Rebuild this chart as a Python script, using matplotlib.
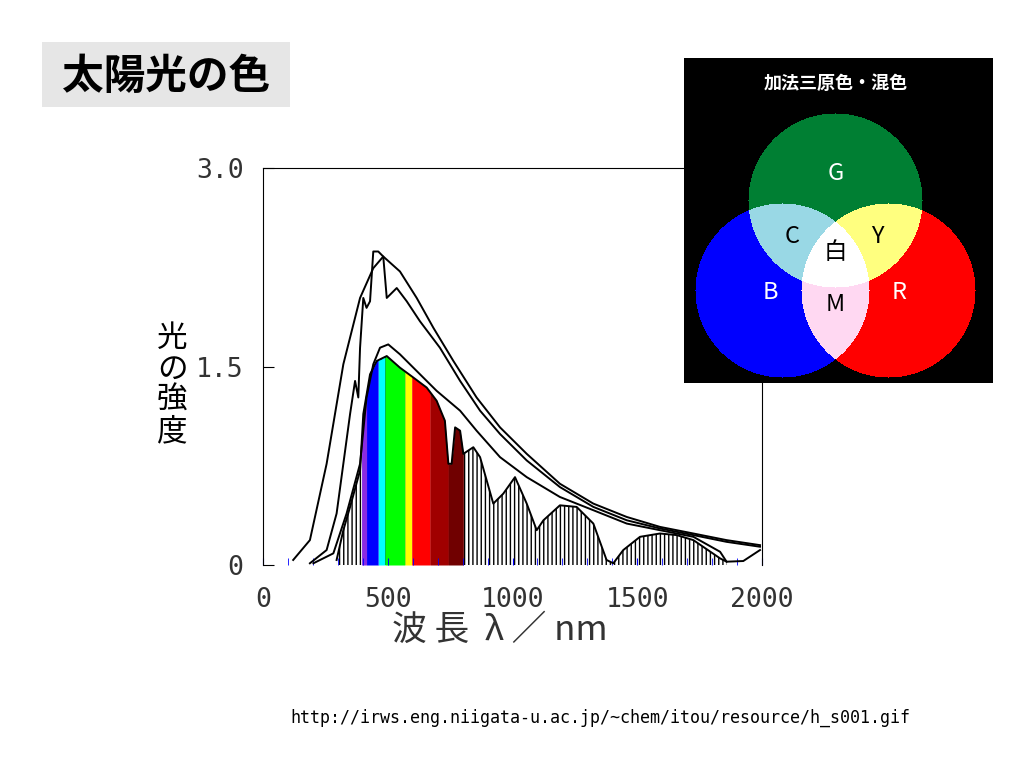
import numpy as np
import matplotlib
matplotlib.use("Agg")
import matplotlib.pyplot as plt

plt.rcParams['font.family'] = ['Noto Sans CJK JP', 'DejaVu Sans']

# extraterrestrial-like envelope (smooth)
wl_a = [121,188,255,322,389,442,482,549,616,683,763,856,950,1057,1190,1324,1458,1591,1725,1858,1992]
va_a = [0.038,0.188,0.765,1.517,2.018,2.243,2.331,2.218,2.018,1.792,1.542,1.266,1.040,0.840,0.614,0.464,0.363,0.288,0.238,0.188,0.150]
# jagged curve
wl_b = [188,255,295,322,349,369,382,389,402,415,429,442,462,482,496,536,576,629,709,790,870,950,1057,1190,1324,1458,1591,1725,1858,1992]
va_b = [0.013,0.113,0.389,0.765,1.141,1.391,1.266,1.642,2.018,1.943,1.993,2.369,2.369,2.331,2.018,2.093,1.993,1.842,1.642,1.391,1.166,0.990,0.790,0.589,0.439,0.338,0.276,0.226,0.175,0.138]
# sea-level envelope (smooth)
wl_c = [202,282,335,389,415,442,469,502,549,616,696,790,856,950,1057,1190,1324,1458,1591,1725,1832,1858,1925,1992]
va_c = [0.013,0.088,0.389,0.765,1.266,1.517,1.642,1.667,1.592,1.466,1.316,1.166,1.015,0.815,0.664,0.514,0.414,0.313,0.263,0.213,0.100,0.025,0.030,0.113]
# sea-level spectrum with absorption bands
wl_d = [295,322,349,389,402,429,456,496,549,603,656,696,729,743,756,770,790,803,843,870,923,963,1010,1057,1097,1124,1190,1257,1324,1377,1404,1444,1511,1591,1658,1725,1832,1858]
va_d = [0.038,0.263,0.439,0.714,1.141,1.441,1.542,1.579,1.491,1.416,1.341,1.241,1.090,0.765,0.765,1.040,1.015,0.840,0.890,0.815,0.464,0.539,0.664,0.464,0.263,0.338,0.451,0.439,0.313,0.038,0.013,0.113,0.213,0.238,0.226,0.188,0.050,0.025]

bands = [(395, 415, '#8a2be2'), (415, 462, '#0000ff'), (462, 489, '#00ffff'), (489, 569, '#00ff00'),
         (569, 596, '#ffff00'), (596, 670, '#ff0000'), (670, 743, '#a00000'), (743, 803, '#700000')]

fig = plt.figure(figsize=(10.24, 7.68), dpi=100)
ax = fig.add_axes([263/1024, 1-565/768, 499/1024, 397/768])
ax.set_xlim(0, 2000)
ax.set_ylim(0, 3.0)

ax.fill_between(wl_d, va_d, 0, facecolor='white', edgecolor='black', hatch='||||', lw=0)
xs = np.array(wl_d, float); ys = np.array(va_d, float)
for lo, hi, col in bands:
    xx = np.linspace(lo, hi, 30)
    ax.fill_between(xx, np.interp(xx, xs, ys), 0, color=col, lw=0)
for w, v in [(wl_a, va_a), (wl_b, va_b), (wl_c, va_c), (wl_d, va_d)]:
    ax.plot(w, v, color='black', lw=1.4)

ax.spines['bottom'].set_visible(False)
ax.set_yticks([0, 1.5, 3.0])
ax.set_yticklabels(['0', '1.5', '3.0'], family='DejaVu Sans Mono', fontsize=19, color='#333')
ax.set_xticks(range(0, 2001, 100), minor=True)
ax.set_xticks([0, 500, 1000, 1500, 2000])
ax.set_xticklabels(['0', '500', '1000', '1500', '2000'], family='DejaVu Sans Mono', fontsize=19, color='#333')
ax.tick_params(axis='x', which='both', color='blue', length=5, direction='in', pad=16)
ax.tick_params(axis='y', length=8, direction='in', pad=14)

fig.text(500/1024, 1-630/768, '波 長  λ ／ nm', fontsize=25, ha='center', va='center', color='#333')
fig.text(172/1024, 1-385/768, '光\nの\n強\n度', fontsize=22, ha='center', va='center', linespacing=1.0)

fig.patches.append(plt.Rectangle((42/1024, 1-107/768), 248/1024, 65/768, transform=fig.transFigure,
                                 facecolor='#e6e6e6', edgecolor='none'))
fig.text(166/1024, 1-77/768, '太陽光の色', fontsize=30, fontweight='bold', ha='center', va='center', color='black')

fig.text(600/1024, 1-718/768, 'http://irws.eng.niigata-u.ac.jp/~chem/itou/resource/h_s001.gif',
         family='DejaVu Sans Mono', fontsize=12, ha='center', va='center')

# additive colour inset
ins = fig.add_axes([684/1024, 1-383/768, 309/1024, 325/768])
W, H = 309, 325
yy, xx = np.mgrid[0:H, 0:W]
def disk(cx, cy, r):
    return (xx - cx) ** 2 + (yy - cy) ** 2 <= r ** 2
g = disk(151, 142, 87); b = disk(98, 232, 87); r = disk(204, 232, 87)
img = np.zeros((H, W, 3))
img[g] = [0, 0.50, 0.20]
img[b] = [0, 0, 1]
img[r] = [1, 0, 0]
img[g & b] = [0.6, 0.85, 0.9]
img[g & r] = [1, 1, 0.5]
img[b & r] = [1, 0.85, 0.95]
img[g & b & r] = [1, 1, 1]
ins.imshow(img, aspect='auto', interpolation='bilinear')
ins.set_axis_off()
ins.text(151, 25, '加法三原色・混色', color='white', fontsize=13, fontweight='bold', ha='center', va='center')
for t, px, py, c in [('G', 151, 115, 'white'), ('C', 108, 178, 'black'), ('Y', 193, 178, 'black'),
                     ('白', 151, 194, 'black'), ('B', 86, 234, 'white'), ('M', 151, 246, 'black'), ('R', 215, 234, 'white')]:
    ins.text(px, py, t, color=c, fontsize=17, ha='center', va='center')

fig.savefig('out.png', dpi=100)
